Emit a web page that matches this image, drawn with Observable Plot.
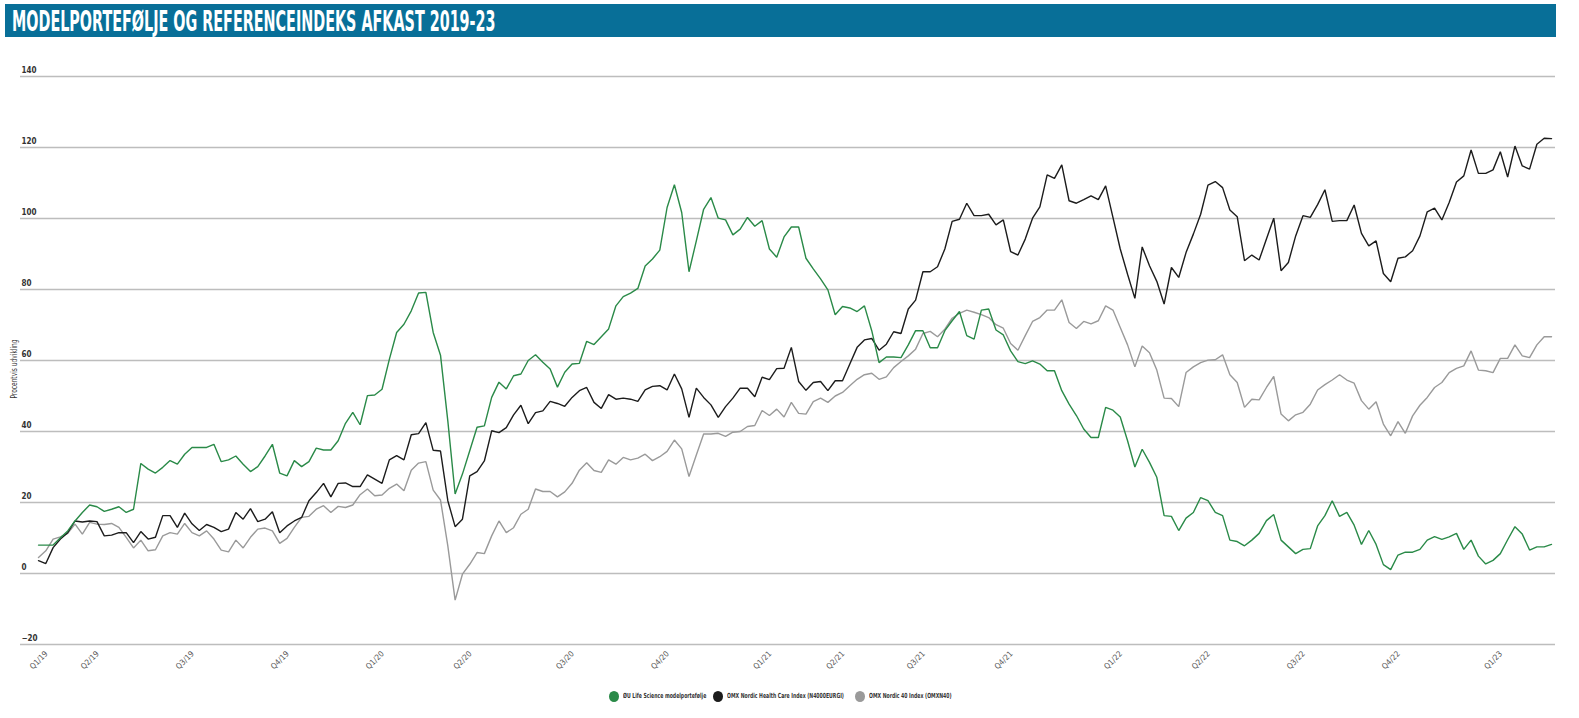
<!DOCTYPE html>
<html><head><meta charset="utf-8">
<script src="https://cdn.jsdelivr.net/npm/d3@7"></script>
<script src="https://cdn.jsdelivr.net/npm/@observablehq/plot@0.6"></script>
<style>
body{margin:0;background:#fff;font-family:"DejaVu Sans Condensed","DejaVu Sans",sans-serif;width:1579px;height:718px;position:relative;overflow:hidden}
#title{position:absolute;left:5px;top:4px;width:1551px;height:33px;background:#086f98;overflow:hidden}
#title span{position:absolute;left:7px;top:0;color:#fff;font-weight:bold;font-size:29px;line-height:34px;transform:scaleX(0.55);transform-origin:left center;white-space:nowrap;font-stretch:condensed}
#chart{position:absolute;left:0;top:37px}
#ylabel{position:absolute;left:14px;top:369px;width:0;height:0}
#ylabel span{position:absolute;left:0;top:0;transform:translate(-50%,-50%) rotate(-90deg) scaleX(0.82);white-space:nowrap;font-size:8px;color:#333}
.lg{position:absolute;top:690px;height:12px;display:flex;align-items:center}
.lg .dot{position:absolute;top:0.5px;width:10px;height:11px;border-radius:50%}
.lg span{position:absolute;top:0;line-height:12px;font-size:7px;font-weight:bold;color:#333;white-space:nowrap;transform:scaleX(0.73);transform-origin:left center}
</style></head>
<body>
<div id="title"><span>MODELPORTEFØLJE OG REFERENCEINDEKS AFKAST 2019-23</span></div>
<div id="chart"></div>
<div id="ylabel"><span>Procentvis udvikling</span></div>
<div id="legend"></div>
<script>
const seriesNames = ["ØU Life Science modelportefølje", "OMX Nordic Health Care Index (N4000EURGI)", "OMX Nordic 40 Index (OMXN40)"];
const seriesColors = ["#2a8a48", "#1c1c1c", "#9a9a9a"];

const modelportefolje = [8.0,8.0,8.0,10.1,12.0,14.8,17.2,19.3,18.8,17.5,18.1,18.8,17.2,18.1,31.0,29.4,28.3,29.9,31.8,30.8,33.6,35.5,35.5,35.5,36.4,31.5,32.0,33.1,30.8,28.7,30.1,33.1,36.4,28.3,27.5,31.8,30.1,31.5,35.3,34.8,34.8,37.4,42.3,45.4,41.9,50.1,50.3,51.9,60.3,67.9,70.2,74.0,79.0,79.2,67.9,61.5,43.0,22.4,28.0,34.6,41.2,41.6,49.6,53.9,52.0,55.7,56.2,60.0,61.6,59.5,57.6,52.5,56.7,59.0,59.2,65.4,64.5,66.7,68.9,75.4,78.0,79.0,80.3,86.6,88.6,91.1,103.1,109.5,101.7,85.0,93.7,102.6,105.9,100.1,99.6,95.4,97.0,100.3,97.8,99.4,91.4,89.1,94.8,97.6,97.6,88.8,85.8,83.0,79.9,72.9,75.2,74.8,73.8,75.4,68.4,59.4,61.0,61.0,60.8,64.4,68.4,68.4,63.6,63.6,68.4,71.2,73.8,67.0,66.0,74.2,74.5,68.6,67.2,62.7,59.7,59.1,59.9,59.0,57.1,57.1,51.5,47.7,44.5,40.7,38.3,38.3,46.8,46.0,44.1,37.4,30.0,35.0,31.3,27.1,16.3,16.1,12.1,15.6,17.2,21.4,20.5,17.2,16.3,9.4,9.0,7.8,9.4,11.3,14.9,16.6,9.4,7.5,5.6,6.8,7.0,13.4,16.3,20.5,16.1,17.2,13.6,8.2,12.1,8.2,2.5,1.1,5.2,6.0,6.0,6.8,9.4,10.4,9.6,10.3,11.3,6.8,9.4,4.9,2.7,3.7,5.6,9.5,13.2,11.1,6.6,7.5,7.5,8.2];

const healthCare = [3.6,2.8,7.3,9.7,11.5,14.8,14.5,14.8,14.6,10.6,10.8,11.5,11.5,8.7,11.8,9.7,10.2,16.3,16.3,13.0,17.0,14.0,12.1,13.8,13.0,11.8,12.5,17.2,15.3,18.3,14.6,15.3,17.4,11.5,13.4,14.8,15.8,20.5,22.8,25.4,21.6,25.4,25.5,24.5,24.5,27.8,26.6,25.4,32.0,33.2,32.0,39.1,39.4,42.5,34.7,34.5,20.5,13.2,15.3,27.5,28.7,31.7,40.2,39.7,41.1,44.7,47.4,42.2,45.3,45.8,48.5,47.9,47.1,49.6,51.5,52.4,48.2,46.5,50.4,49.1,49.4,49.1,48.5,51.7,52.7,52.9,51.7,56.2,52.0,44.0,52.2,49.6,47.5,44.0,47.0,49.4,52.2,52.2,49.8,55.3,54.6,57.7,57.8,63.7,54.1,51.6,53.8,54.1,51.5,54.3,54.3,59.0,63.7,65.8,66.2,62.9,64.6,68.1,67.6,74.5,77.0,85.0,85.0,86.4,91.4,99.2,99.8,104.3,100.8,100.8,101.2,98.2,99.6,90.7,89.7,94.2,100.1,103.3,112.3,111.3,115.1,105.0,104.3,105.3,106.4,105.3,109.2,100.3,91.4,84.3,77.5,92.0,86.7,82.3,75.9,86.2,83.4,90.4,95.6,101.2,109.4,110.4,108.7,102.4,100.5,88.1,89.7,88.3,94.2,100.1,85.3,87.6,95.1,100.8,100.3,103.9,108.1,99.2,99.4,99.4,103.8,95.8,92.3,93.7,84.5,82.2,88.8,89.2,90.9,95.1,101.9,102.9,99.6,104.5,110.3,112.0,119.3,112.7,112.7,113.7,118.8,111.7,120.4,114.8,113.9,120.9,122.6,122.5];

const nordic40 = [4.5,6.4,9.7,10.3,11.3,13.9,11.1,14.4,13.9,13.8,14.1,13.0,10.2,7.2,9.4,6.4,6.7,10.6,11.5,11.1,14.1,11.5,10.6,12.0,9.7,6.6,6.1,9.4,7.2,10.2,12.5,12.8,12.0,8.5,9.9,13.0,15.8,16.1,18.1,19.1,17.2,18.9,18.6,19.3,22.2,23.8,21.9,22.1,24.0,25.2,23.3,29.1,31.1,31.5,23.5,20.7,7.8,-7.5,-0.2,2.6,5.9,5.6,10.6,14.8,11.5,12.9,16.7,18.1,23.8,23.1,23.1,21.6,23.0,25.4,29.1,31.2,29.0,28.5,32.0,30.8,32.7,32.0,32.5,33.6,31.8,32.9,34.4,37.6,35.1,27.3,33.4,39.3,39.3,39.5,38.6,39.8,40.0,41.4,41.7,45.9,44.5,46.3,44.1,48.2,45.1,44.9,48.4,49.4,48.2,50.0,51.0,52.9,54.7,56.0,56.4,54.7,55.4,58.0,59.7,61.3,63.2,67.6,68.2,66.7,68.8,71.9,73.3,74.2,73.6,72.9,72.1,70.1,69.1,64.8,62.9,67.0,71.0,72.1,74.2,74.2,77.1,70.7,69.0,71.0,70.3,71.2,75.4,74.2,69.3,64.4,58.2,64.1,62.2,57.3,49.4,49.3,47.0,56.6,58.2,59.4,60.1,60.2,61.6,56.0,53.8,46.8,49.1,48.9,52.4,55.5,44.9,43.0,44.7,45.4,47.7,51.7,53.2,54.5,56.0,54.5,53.6,48.7,46.3,48.4,42.1,38.8,42.8,39.5,44.4,47.4,49.6,52.4,53.8,56.6,57.8,58.5,62.7,57.3,57.1,56.6,60.6,60.6,64.4,61.3,60.8,64.4,66.7,66.7];

const quarterLabels = ["Q1/19","Q2/19","Q3/19","Q4/19","Q1/20","Q2/20","Q3/20","Q4/20","Q1/21","Q2/21","Q3/21","Q4/21","Q1/22","Q2/22","Q3/22","Q4/22","Q1/23"];
const quarterIndex = [0,7,20,33,46,58,72,85,99,109,120,132,147,159,172,185,199];
const yTicks = [-20,0,20,40,60,80,100,120,140];

const seriesValues = [modelportefolje, healthCare, nordic40];
const rows = [];
[2,1,0].forEach(s => seriesValues[s].forEach((v,i) => rows.push({i, v, series: seriesNames[s]})));

const labelOf = new Map(quarterIndex.map((d,k) => [d, quarterLabels[k]]));

const chart = Plot.plot({
  width: 1579,
  height: 638,
  marginTop: 39,
  marginBottom: 31,
  marginLeft: 20,
  marginRight: 24,
  style: {fontFamily: "'DejaVu Sans Condensed','DejaVu Sans',sans-serif", fontSize: "8px", color: "#333", background: "#fff"},
  x: {domain: [0, modelportefolje.length - 1], insetLeft: 18, insetRight: 4},
  y: {domain: [-20, 140]},
  color: {domain: seriesNames, range: seriesColors},
  marks: [
    Plot.gridY(yTicks, {stroke: "#bdbdbd", strokeOpacity: 1, strokeWidth: 1.6}),
    Plot.axisY(yTicks, {tickSize: 0, tickPadding: 0, textAnchor: "start", dx: 1, dy: -6, fontWeight: "bold", fontSize: 8, fill: "#333", label: null}),
    Plot.axisX(quarterIndex, {tickSize: 0, tickPadding: 2, tickRotate: -45, dx: 8, dy: 6, tickFormat: d => labelOf.get(d), fontSize: 8, fill: "#555", label: null}),
    Plot.lineY(rows, {x: "i", y: "v", stroke: "series", z: "series", strokeWidth: 1.4, strokeLinejoin: "miter"})
  ]
});
document.getElementById("chart").appendChild(chart);

const legend = document.getElementById("legend");
const legendDotX = [609, 713, 855];
seriesNames.forEach((n, k) => {
  const it = document.createElement("div"); it.className = "lg"; it.style.left = legendDotX[k] + "px";
  const dot = document.createElement("div"); dot.className = "dot"; dot.style.background = seriesColors[k]; dot.style.left = "0px";
  const t = document.createElement("span"); t.textContent = n; t.style.left = "14px";
  it.appendChild(dot); it.appendChild(t); legend.appendChild(it);
});
</script>
</body></html>
